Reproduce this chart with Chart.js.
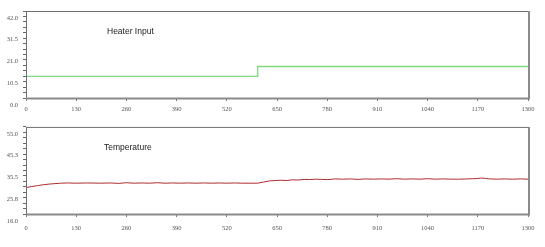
<!DOCTYPE html>
<html>
<head>
<meta charset="utf-8">
<script src="https://cdn.jsdelivr.net/npm/chart.js@4.4.1/dist/chart.umd.min.js"></script>
<style>
  html, body { margin: 0; padding: 0; background: #fff; }
  .box { position: absolute; left: 0; width: 545px; }
</style>
</head>
<body>
<div class="box" style="top:0;height:118px"><canvas id="heater" width="545" height="118"></canvas></div>
<div class="box" style="top:118px;height:129px"><canvas id="temp" width="545" height="129"></canvas></div>
<script>
// tick labels
var xTicks = [0, 130, 260, 390, 520, 650, 780, 910, 1040, 1170, 1300];
var heaterTicks = [0, 10.5, 21, 31.5, 42];
var tempTicks = [16, 25.75, 35.5, 45.25, 55];

// heater input (step)
var heaterX = [0, 600, 600, 1300];
var heaterY = [10.4, 10.4, 15.2, 15.2];

// temperature readings
var tempX = [0, 15, 30, 45, 60, 75, 90, 110, 130, 160, 190, 220, 240, 260, 280, 300, 320, 340, 360, 380,
  400, 420, 440, 460, 480, 500, 520, 540, 560, 580, 600, 615, 630, 645, 660, 675, 690, 705, 720, 735,
  750, 765, 780, 800, 820, 840, 860, 880, 900, 920, 940, 960, 980, 1000, 1020, 1040, 1060, 1080, 1100,
  1120, 1140, 1160, 1170, 1180, 1190, 1200, 1220, 1240, 1260, 1280, 1300];
var tempY = [27.8, 28.3, 28.7, 29.1, 29.4, 29.6, 29.8, 29.9, 29.8, 29.9, 29.8, 29.9, 29.7, 30.0, 29.8, 29.9, 29.8, 30.0, 29.8, 29.9,
  29.8, 29.9, 29.8, 29.9, 29.8, 29.9, 29.8, 29.9, 29.8, 29.8, 29.8, 30.3, 30.8, 31.0, 31.1, 31.0, 31.3, 31.2, 31.5, 31.4,
  31.6, 31.5, 31.4, 31.7, 31.6, 31.7, 31.5, 31.7, 31.6, 31.7, 31.6, 31.8, 31.6, 31.7, 31.6, 31.8, 31.6, 31.7, 31.6,
  31.6, 31.7, 31.8, 31.9, 32.1, 31.9, 31.7, 31.6, 31.7, 31.6, 31.7, 31.6];

function toPoints(xs, ys) {
  var pts = [];
  for (var i = 0; i < xs.length; i++) pts.push({x: xs[i], y: ys[i]});
  return pts;
}

// major ticks plus 3 minor ones between each pair
function withMinor(major) {
  var out = [];
  for (var i = 0; i < major.length; i++) {
    out.push({value: major[i], major: true});
    if (i < major.length - 1) {
      var step = (major[i + 1] - major[i]) / 4;
      for (var k = 1; k < 4; k++) out.push({value: major[i] + step * k, major: false});
    }
  }
  return out;
}

var framePlugin = {
  id: 'frame',
  afterDraw: function (chart) {
    var a = chart.chartArea, ctx = chart.ctx;
    ctx.save();
    ctx.strokeStyle = '#6e6e6e';
    ctx.lineWidth = 1;
    ctx.strokeRect(a.left + 0.5, a.top + 0.5, a.right - a.left, a.bottom - a.top);
    ctx.strokeStyle = '#8a8a8a';
    ctx.lineWidth = 2;
    ctx.beginPath();
    ctx.moveTo(a.left, a.bottom + 0.5);
    ctx.lineTo(a.right + 1, a.bottom + 0.5);
    ctx.lineTo(a.right + 1, a.top);
    ctx.stroke();
    var t = chart.options.plugins.frame.title;
    ctx.fillStyle = '#222';
    ctx.font = '8.5px "Liberation Sans", Arial, sans-serif';
    ctx.textBaseline = 'middle';
    ctx.fillText(t.text, a.left + t.dx, a.top + t.dy);
    ctx.restore();
  }
};

function makeChart(id, xs, ys, color, lw, yTicks, title, pad, xh, xpad) {
  return new Chart(document.getElementById(id), {
    type: 'line',
    data: {
      datasets: [{
        data: toPoints(xs, ys),
        borderColor: color,
        borderWidth: lw,
        pointRadius: 0,
        tension: 0
      }]
    },
    options: {
      responsive: false,
      animation: false,
      layout: {padding: {top: pad, right: 17, left: 0, bottom: 0}},
      plugins: {
        legend: {display: false},
        tooltip: {enabled: false},
        frame: {title: title}
      },
      scales: {
        x: {
          type: 'linear',
          min: 0,
          max: 1300,
          afterBuildTicks: function (s) { s.ticks = xTicks.map(function (v) { return {value: v}; }); },
          afterFit: function (s) { s.height = xh; },
          grid: {drawOnChartArea: false, tickLength: 3, color: '#777'},
          border: {display: false},
          ticks: {
            autoSkip: false, maxRotation: 0, padding: xpad, color: '#555',
            font: {family: '"Liberation Serif", serif', size: 6.5},
            callback: function (v) { return String(v); }
          }
        },
        y: {
          type: 'linear',
          min: yTicks[0],
          max: yTicks[yTicks.length - 1],
          afterBuildTicks: function (s) { s.ticks = withMinor(yTicks); },
          afterFit: function (s) { s.width = 26; },
          grid: {drawOnChartArea: false, tickLength: 3, color: '#666'},
          border: {display: false},
          ticks: {
            autoSkip: false, padding: 5, labelOffset: 7, color: '#555',
            font: {family: '"Liberation Serif", serif', size: 6.5},
            callback: function (v, i, all) { return all[i].major ? v.toFixed(1) : ''; }
          }
        }
      }
    },
    plugins: [framePlugin]
  });
}

makeChart('heater', heaterX, heaterY, '#80d880', 1.3, heaterTicks, {text: 'Heater Input', dx: 81, dy: 21}, 11, 20, 4);
makeChart('temp', tempX, tempY, '#b02a2e', 1, tempTicks, {text: 'Temperature', dx: 78, dy: 21}, 8, 33, 7);
</script>
</body>
</html>
